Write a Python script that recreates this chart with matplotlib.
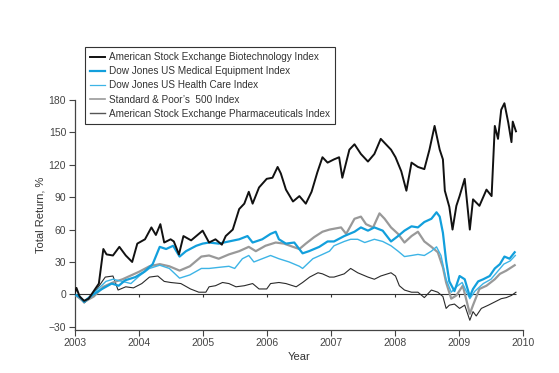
import numpy as np
import matplotlib
matplotlib.use('Agg')
import matplotlib.pyplot as plt

plt.rcParams['font.family'] = ['Liberation Sans', 'DejaVu Sans']

## values (year, total return %)
bio_t = [2003.0, 2003.03, 2003.08, 2003.15, 2003.22, 2003.3, 2003.38, 2003.45, 2003.5, 2003.6,
         2003.7, 2003.8, 2003.9, 2003.98, 2004.1, 2004.2, 2004.27, 2004.34, 2004.4, 2004.5,
         2004.55, 2004.63, 2004.7, 2004.82, 2004.92, 2005.0, 2005.1, 2005.2, 2005.3, 2005.36,
         2005.47, 2005.57, 2005.65, 2005.72, 2005.78, 2005.88, 2006.0, 2006.09, 2006.17, 2006.22,
         2006.3, 2006.41, 2006.51, 2006.61, 2006.7, 2006.79, 2006.87, 2006.95, 2007.05, 2007.13,
         2007.18, 2007.29, 2007.37, 2007.47, 2007.58, 2007.68, 2007.78, 2007.86, 2007.94, 2008.01,
         2008.1, 2008.18, 2008.26, 2008.36, 2008.46, 2008.54, 2008.62, 2008.7, 2008.75, 2008.78,
         2008.85, 2008.9, 2008.96, 2009.01, 2009.09, 2009.17, 2009.22, 2009.32, 2009.43, 2009.51,
         2009.56, 2009.61, 2009.66, 2009.71, 2009.77, 2009.82, 2009.84, 2009.89]
bio_v = [0, 6, -2, -6, -4, 3, 10, 42, 37, 36,
         44, 36, 30, 47, 51, 62, 55, 65, 48, 51,
         49, 37, 54, 50, 55, 59, 48, 51, 46, 54,
         60, 79, 84, 95, 84, 99, 107, 108, 118, 112,
         97, 86, 91, 84, 95, 113, 127, 122, 125, 127,
         108, 134, 139, 130, 123, 130, 144, 139, 134, 127,
         114, 96, 122, 118, 116, 134, 156, 134, 125, 96,
         81, 60, 82, 91, 107, 60, 88, 82, 97, 91,
         156, 144, 171, 177, 159, 141, 160, 151]

med_t = [2003.0, 2003.08, 2003.15, 2003.27, 2003.43, 2003.58, 2003.69, 2003.79, 2003.95, 2004.09,
         2004.22, 2004.33, 2004.43, 2004.54, 2004.64, 2004.74, 2004.9, 2005.0, 2005.1, 2005.25,
         2005.41, 2005.57, 2005.7, 2005.78, 2005.93, 2006.06, 2006.14, 2006.19, 2006.3, 2006.43,
         2006.56, 2006.66, 2006.82, 2006.95, 2007.05, 2007.21, 2007.37, 2007.47, 2007.58, 2007.68,
         2007.81, 2007.94, 2008.05, 2008.15, 2008.26, 2008.36, 2008.46, 2008.57, 2008.65, 2008.7,
         2008.75, 2008.8, 2008.85, 2008.93, 2009.01, 2009.09, 2009.17, 2009.22, 2009.3, 2009.38,
         2009.48, 2009.56, 2009.64, 2009.71, 2009.79, 2009.87]
med_v = [0, -2, -7, -1, 5, 10, 8, 13, 16, 21,
         28, 44, 42, 45, 35, 40, 45, 47, 48, 47,
         49, 51, 54, 48, 51, 56, 58, 51, 47, 48,
         38, 40, 44, 49, 49, 54, 58, 62, 59, 62,
         59, 49, 54, 59, 63, 62, 67, 70, 76, 72,
         57, 31, 12, 3, 17, 14, -2, 5, 12, 14,
         17, 24, 28, 35, 33, 39]

hc_t = [2003.0, 2003.15, 2003.3, 2003.49, 2003.6, 2003.75, 2003.88, 2004.01, 2004.17, 2004.33,
        2004.48, 2004.64, 2004.8, 2004.98, 2005.1, 2005.25, 2005.41, 2005.5, 2005.62, 2005.72,
        2005.8, 2005.93, 2006.06, 2006.19, 2006.35, 2006.51, 2006.56, 2006.72, 2006.87, 2006.98,
        2007.05, 2007.21, 2007.31, 2007.42, 2007.53, 2007.68, 2007.81, 2007.94, 2008.05, 2008.15,
        2008.26, 2008.36, 2008.46, 2008.57, 2008.65, 2008.72, 2008.8, 2008.88, 2008.96, 2009.05,
        2009.17, 2009.25, 2009.38, 2009.5, 2009.6, 2009.7, 2009.8, 2009.88]
hc_v = [0, -6, 1, 12, 14, 12, 10, 17, 24, 27,
        24, 15, 18, 24, 24, 25, 26, 24, 33, 36,
        30, 33, 36, 33, 30, 26, 24, 33, 37, 40,
        45, 49, 51, 51, 48, 51, 49, 45, 40, 35,
        36, 37, 36, 40, 44, 36, 14, 2, 7, 11,
        -4, 3, 10, 14, 21, 28, 31, 36]

sp_t = [2003.0, 2003.15, 2003.3, 2003.45, 2003.6, 2003.75, 2004.01, 2004.17, 2004.33, 2004.48,
        2004.64, 2004.8, 2004.98, 2005.1, 2005.25, 2005.41, 2005.57, 2005.72, 2005.83, 2005.98,
        2006.14, 2006.27, 2006.41, 2006.51, 2006.61, 2006.74, 2006.87, 2006.98, 2007.16, 2007.24,
        2007.37, 2007.47, 2007.55, 2007.66, 2007.76, 2007.84, 2007.94, 2008.05, 2008.15, 2008.26,
        2008.36, 2008.46, 2008.57, 2008.67, 2008.75, 2008.8, 2008.88, 2008.96, 2009.06, 2009.17,
        2009.22, 2009.32, 2009.43, 2009.56, 2009.64, 2009.74, 2009.87]
sp_v = [0, -7, -2, 7, 11, 14, 21, 26, 28, 26,
        22, 26, 35, 36, 33, 37, 40, 44, 40, 45,
        48, 47, 44, 42, 47, 53, 58, 60, 62, 56,
        70, 72, 65, 62, 75, 70, 62, 56, 48, 54,
        58, 49, 44, 39, 25, 11, -4, -1, 8, -18,
        -10, 5, 8, 14, 19, 22, 27]

ph_t = [2003.0, 2003.08, 2003.15, 2003.25, 2003.35, 2003.48, 2003.6, 2003.68, 2003.8, 2003.92,
        2004.05, 2004.17, 2004.3, 2004.4, 2004.5, 2004.66, 2004.81, 2004.94, 2005.05, 2005.1,
        2005.2, 2005.31, 2005.41, 2005.52, 2005.65, 2005.78, 2005.88, 2006.0, 2006.06, 2006.19,
        2006.3, 2006.46, 2006.56, 2006.67, 2006.8, 2006.87, 2006.98, 2007.05, 2007.21, 2007.31,
        2007.42, 2007.58, 2007.68, 2007.78, 2007.94, 2008.01, 2008.07, 2008.15, 2008.26, 2008.36,
        2008.46, 2008.57, 2008.67, 2008.75, 2008.8, 2008.85, 2008.93, 2009.01, 2009.09, 2009.17,
        2009.22, 2009.27, 2009.35, 2009.46, 2009.56, 2009.66, 2009.74, 2009.82, 2009.89]
ph_v = [0, -3, -8, -3, 5, 16, 17, 4, 7, 6,
        10, 16, 17, 12, 11, 10, 5, 2, 2, 7,
        8, 11, 10, 7, 8, 10, 5, 5, 10, 11,
        10, 7, 11, 16, 20, 19, 16, 16, 19, 24,
        20, 16, 14, 17, 20, 17, 8, 4, 2, 2,
        -3, 4, 2, -2, -13, -10, -9, -13, -10, -24,
        -16, -20, -13, -10, -7, -4, -3, -1, 2]

labels = ['American Stock Exchange Biotechnology Index',
          'Dow Jones US Medical Equipment Index',
          'Dow Jones US Health Care Index',
          'Standard & Poor\u2019s  500 Index',
          'American Stock Exchange Pharmaceuticals Index']
years = list(range(2003, 2011))

fig = plt.figure(figsize=(5.59, 3.73), dpi=100)
ax = fig.add_axes([0.1333, 0.1153, 0.8023, 0.6166])

ax.plot(ph_t, ph_v, color='#2a2a2a', lw=0.8, zorder=3)
ax.plot(sp_t, sp_v, color='#999999', lw=1.6, zorder=4)
ax.plot(hc_t, hc_v, color='#3db4e6', lw=1.0, zorder=5)
ax.plot(med_t, med_v, color='#129fdc', lw=1.6, zorder=6)
ax.plot(bio_t, bio_v, color='#111111', lw=1.4, zorder=7)

# zero line with little year ticks
ax.hlines(0, years[0], bio_t[-1], color='#333333', lw=0.8, zorder=2)
ax.vlines(years[1:-1], -2.8, 0, color='#333333', lw=0.8, zorder=2)

ax.set_xlim(2003, 2010)
ax.set_ylim(-33, 180)
ax.set_xticks(years)
ax.set_yticks(range(-30, 181, 30))
ax.spines['top'].set_visible(False)
ax.spines['right'].set_visible(False)
for s in ['left', 'bottom']:
    ax.spines[s].set_color('#444444')
    ax.spines[s].set_linewidth(0.9)
ax.tick_params(direction='out', length=4, width=0.8, color='#444444',
               labelsize=7.5, labelcolor='#444444', pad=2)
ax.set_xlabel('Year', fontsize=8, color='#333333', labelpad=3)
ax.set_ylabel('Total Return, %', fontsize=8, color='#333333', labelpad=2)

handles = [plt.Line2D([], [], color='#111111', lw=1.4),
           plt.Line2D([], [], color='#129fdc', lw=1.6),
           plt.Line2D([], [], color='#3db4e6', lw=0.9),
           plt.Line2D([], [], color='#999999', lw=1.2),
           plt.Line2D([], [], color='#555555', lw=1.0)]
leg = fig.legend(handles, labels, loc='upper left', bbox_to_anchor=(85 / 559, 1 - 47 / 373),
                 bbox_transform=fig.transFigure, fancybox=False, framealpha=1,
                 edgecolor='#333333', fontsize=7.2, handlelength=1.5, handletextpad=0.4,
                 labelspacing=0.42, borderpad=0.5, borderaxespad=0)
leg.get_frame().set_linewidth(0.8)
for t in leg.get_texts():
    t.set_color('#333333')

plt.savefig('out.png', dpi=100)
plt.close()
